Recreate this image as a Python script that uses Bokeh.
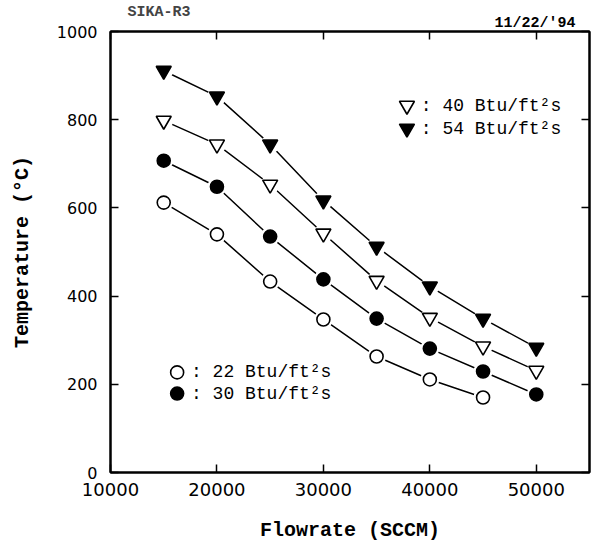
from bokeh.plotting import figure
from bokeh.models import Range1d, LinearAxis, Label, FixedTicker, Title
from bokeh.embed import file_html
from bokeh.resources import INLINE

flow = [15000, 20000, 25000, 30000, 35000, 40000, 45000, 50000]
t22 = [612, 540, 433, 347, 263, 211, 170]
t30 = [707, 648, 535, 438, 349, 281, 229, 177]
t40 = [798, 744, 653, 542, 435, 351, 286, 231]
t54 = [911, 853, 744, 617, 512, 422, 349, 283]
x_ticks = [10000, 20000, 30000, 40000, 50000]
y_ticks = [0, 200, 400, 600, 800, 1000]

p = figure(width=592, height=546, output_backend="svg", toolbar_location=None,
           x_range=Range1d(10000, 55000), y_range=Range1d(0, 1000),
           min_border_left=110, min_border_right=3, min_border_top=31, min_border_bottom=74)
p.outline_line_color = "black"
p.outline_line_width = 2
p.grid.visible = False
p.background_fill_color = "white"
p.border_fill_color = "white"

for ax in [p.xaxis[0], p.yaxis[0]]:
    ax.major_tick_in = 8
    ax.major_tick_out = 0
    ax.minor_tick_in = 0
    ax.minor_tick_out = 0
    ax.axis_line_width = 2
    ax.major_tick_line_width = 1.5
    ax.major_label_text_font = "DejaVu Sans"
    ax.major_label_text_color = "black"
    ax.axis_label_text_color = "black"
    ax.axis_label_text_font = "Liberation Mono"
    ax.axis_label_text_font_style = "bold"
    ax.axis_label_text_font_size = "20px"
p.xaxis[0].major_label_text_font_size = "18px"
p.yaxis[0].major_label_text_font_size = "16px"
p.xaxis[0].major_label_standoff = 10
p.yaxis[0].major_label_standoff = 13
p.xaxis[0].ticker = FixedTicker(ticks=x_ticks)
p.yaxis[0].ticker = FixedTicker(ticks=y_ticks)
p.xaxis[0].axis_label = "Flowrate (SCCM)"
p.xaxis[0].axis_label_standoff = 20
p.yaxis[0].axis_label = "Temperature (°C)"
p.yaxis[0].axis_label_standoff = 20
p.yaxis[0].major_label_orientation = "horizontal"

right_ax = LinearAxis(ticker=FixedTicker(ticks=y_ticks),
                      major_label_overrides={t: "" for t in y_ticks}, major_label_standoff=0,
                      major_tick_in=8, major_tick_out=0, minor_tick_in=0, minor_tick_out=0,
                      axis_line_width=2, major_tick_line_width=1.5)
p.add_layout(right_ax, "right")
top_ax = LinearAxis(ticker=FixedTicker(ticks=x_ticks),
                    major_label_overrides={t: "" for t in x_ticks}, major_label_standoff=0,
                    major_tick_in=8, major_tick_out=0, minor_tick_in=0, minor_tick_out=0,
                    axis_line_width=2, major_tick_line_width=1.5)
p.add_layout(top_ax, "above")

date_title = Title(text="11/22/'94", align="right", offset=14, standoff=-1,
                   text_font="Liberation Mono", text_font_style="bold",
                   text_font_size="15px", text_line_height=0.8, text_color="black")
p.add_layout(date_title, "above")

p.title.text = "SIKA-R3"
p.title.align = "left"
p.title.offset = 17
p.title.standoff = -15
p.title.text_font = "Liberation Mono"
p.title.text_font_style = "bold"
p.title.text_font_size = "15px"
p.title.text_line_height = 0.8

series = [(t22, "circle", "white"), (t30, "circle", "black"),
          (t40, "inverted_triangle", "white"), (t54, "inverted_triangle", "black")]
for ys, mk, fill in series:
    xs = flow[:len(ys)]
    p.line(xs, ys, line_color="black", line_width=1.5)
    p.scatter(xs, ys, marker="circle", size=19, fill_color="white", line_color=None)
for ys, mk, fill in series:
    xs = flow[:len(ys)]
    p.scatter(xs, ys, marker=mk, size=13 if mk == "circle" else 15,
              fill_color=fill, line_color="black", line_width=1.6)

# legends
leg = [("inverted_triangle", "white", 37850, 832, ": 40 Btu/ft²s"),
       ("inverted_triangle", "black", 37850, 780, ": 54 Btu/ft²s"),
       ("circle", "white", 16260, 227, ": 22 Btu/ft²s"),
       ("circle", "black", 16260, 179, ": 30 Btu/ft²s")]
for mk, fill, lx, ly, txt in leg:
    p.scatter([lx], [ly], marker=mk, size=13 if mk == "circle" else 15,
              fill_color=fill, line_color="black", line_width=1.6)
    p.add_layout(Label(x=lx + 1300, y=ly, text=txt, text_font="Liberation Mono",
                       text_font_size="18px", text_baseline="middle", text_color="black"))

open("out.html", "w").write(file_html(p, INLINE))
